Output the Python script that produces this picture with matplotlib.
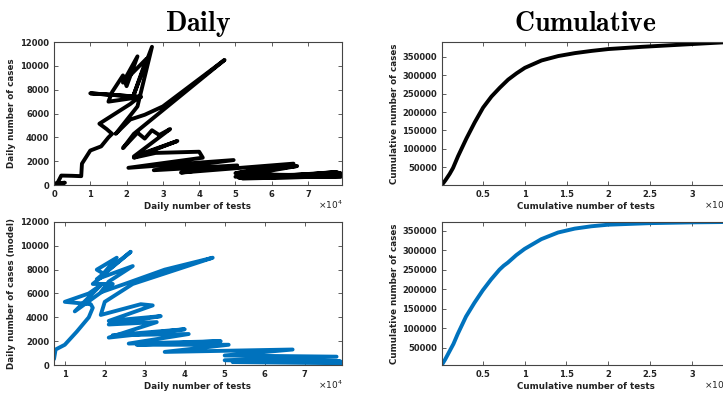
import matplotlib
matplotlib.use("Agg")
import matplotlib.pyplot as plt

# daily tests (x 1e4) and daily cases, observed
obs_tests = [0.00, 0.05, 0.30, 0.08, 0.15, 0.20, 0.50, 0.75, 0.77, 1.00,
             1.30, 1.50, 1.60, 1.45, 1.25, 2.10, 2.35, 1.00, 2.40, 1.50,
             1.60, 1.90, 2.00, 2.30, 1.90, 2.55, 2.20, 2.70, 2.30, 1.70,
             2.10, 2.50, 3.00, 4.70, 2.20, 1.90, 2.30, 2.50, 2.70, 2.90,
             3.20, 2.20, 3.40, 2.20, 2.80, 4.00, 4.10, 2.05, 4.95, 2.75,
             5.05, 3.50, 6.60, 5.00, 6.70, 5.00, 7.90, 5.10, 7.85, 5.40,
             7.93, 5.20, 7.80, 6.00, 7.90]
obs_cases = [0, 150, 200, 100, 500, 800, 780, 750, 1800, 2900,
             3250, 4000, 4300, 4700, 5150, 6800, 7400, 7700, 7400, 7000,
             7800, 9200, 8300, 10800, 8600, 10600, 7600, 11600, 6600, 4300,
             5500, 5900, 6600, 10500, 4300, 3100, 4400, 3900, 4600, 4200,
             4700, 2400, 3700, 2300, 2700, 2800, 2300, 1450, 2100, 1250,
             1650, 1050, 1800, 1000, 1600, 700, 1000, 600, 800, 900,
             750, 550, 1100, 650, 700]

# daily tests (x 1e4) and daily cases, model
mod_tests = [0.73, 0.77, 1.00, 1.30, 1.60, 1.70, 1.65, 1.00, 1.60, 1.90,
             1.25, 2.20, 1.70, 2.00, 1.80, 2.30, 1.90, 2.65, 1.80, 2.70,
             2.10, 1.90, 2.50, 3.50, 4.70, 2.70, 2.00, 1.90, 2.90, 3.20,
             2.10, 3.40, 2.10, 3.30, 2.10, 4.00, 2.20, 4.10, 2.60, 4.90,
             2.80, 5.10, 3.50, 6.70, 5.00, 7.80, 5.00, 7.90, 5.20, 7.93]
mod_cases = [500, 1300, 1700, 2800, 4000, 4800, 5100, 5300, 6000, 6700,
             4500, 6800, 6800, 7600, 8000, 9000, 7400, 9500, 7200, 8300,
             7000, 6100, 6800, 8000, 9000, 6800, 5300, 4200, 5100, 5000,
             3700, 4100, 3400, 3600, 2300, 3000, 2500, 2600, 1800, 2000,
             1700, 1700, 1100, 1300, 800, 700, 400, 300, 250, 150]

# cumulative tests (x 1e6) and cumulative cases
cum_obs_tests = [0.005, 0.05, 0.10, 0.14, 0.20, 0.30, 0.40, 0.50, 0.60, 0.70, 0.80,
                 0.90, 1.00, 1.20, 1.40, 1.60, 1.80, 2.00, 2.40, 2.80, 3.20, 3.45]
cum_obs_cases = [1500, 15000, 32000, 48000, 80000, 128000, 172000, 212000, 242000,
                 266000, 288000, 305000, 320000, 340000, 352000, 360000, 366000,
                 371000, 377000, 382000, 387000, 390000]
cum_mod_tests = [0.01, 0.05, 0.10, 0.15, 0.20, 0.30, 0.40, 0.50, 0.60, 0.70, 0.75,
                 0.80, 0.90, 1.00, 1.20, 1.40, 1.60, 1.80, 2.00, 2.50, 3.00, 3.45]
cum_mod_cases = [6000, 20000, 40000, 60000, 85000, 130000, 165000, 197000, 225000,
                 250000, 260000, 268000, 287000, 303000, 328000, 345000, 355000,
                 361000, 365000, 369000, 371000, 372000]

BLUE = '#0072BD'
AXC = '#444444'

fig = plt.figure(figsize=(7.23, 3.93), dpi=100)


def style(ax):
    for s in ax.spines.values():
        s.set_color(AXC)
        s.set_linewidth(0.8)
    ax.tick_params(direction='in', top=True, right=True, length=3, width=0.6,
                   color=AXC, labelsize=6, pad=3.5)
    for lab in ax.get_xticklabels() + ax.get_yticklabels():
        lab.set_fontweight('bold')
        lab.set_color('#222222')


def line(ax, x, y, color):
    ax.plot(x, y, color=color, lw=2.8, solid_capstyle='round',
            solid_joinstyle='round')
    ax.set_xlim(min(x), max(x))
    ax.set_ylim(min(y), max(y))


lw, h = 0.398, 0.364
ax1 = fig.add_axes([0.0747, 0.529, lw, h])
ax2 = fig.add_axes([0.611, 0.529, lw, h])
ax3 = fig.add_axes([0.0747, 0.0712, lw, h])
ax4 = fig.add_axes([0.611, 0.0712, lw, h])

line(ax1, obs_tests, obs_cases, 'black')
ax1.set_ylim(0, 12000)
ax1.set_xticks(range(0, 8))
ax1.set_yticks(range(0, 12001, 2000))

line(ax3, mod_tests, mod_cases, BLUE)
ax3.set_ylim(0, 12000)
ax3.set_xticks(range(1, 8))
ax3.set_yticks(range(0, 12001, 2000))

line(ax2, cum_obs_tests, cum_obs_cases, 'black')
line(ax4, cum_mod_tests, cum_mod_cases, BLUE)
for ax in (ax2, ax4):
    ax.set_xticks([0.5, 1, 1.5, 2, 2.5, 3])
    ax.set_xticklabels(['0.5', '1', '1.5', '2', '2.5', '3'])
    ax.set_yticks(range(50000, 350001, 50000))

lab = dict(fontsize=6.3, fontweight='bold', color='#222222')
ax1.set_xlabel('Daily number of tests', labelpad=2.5, **lab)
ax1.set_ylabel('Daily number of cases', labelpad=3, **lab)
ax3.set_xlabel('Daily number of tests', labelpad=2.5, **lab)
ax3.set_ylabel('Daily number of cases (model)', labelpad=3, **lab)
ax2.set_xlabel('Cumulative number of tests', labelpad=2.5, **lab)
ax2.set_ylabel('Cumulative number of cases', labelpad=2, **lab)
ax4.set_xlabel('Cumulative number of tests', labelpad=2.5, **lab)
ax4.set_ylabel('Cumulative number of cases', labelpad=2, **lab)

for ax in (ax1, ax2, ax3, ax4):
    style(ax)

# exponent labels (the right ones run off the edge, as in the source)
fig.text(0.474, 0.468, r'$\times10^{4}$', ha='right', fontsize=6.5, color='#222222')
fig.text(0.474, 0.010, r'$\times10^{4}$', ha='right', fontsize=6.5, color='#222222')
fig.text(1.008, 0.468, r'$\times10^{6}$', ha='right', fontsize=6.5, color='#222222')
fig.text(1.008, 0.010, r'$\times10^{6}$', ha='right', fontsize=6.5, color='#222222')

fig.text(0.274, 0.921, r'$\mathbf{Daily}$', ha='center', va='baseline',
         fontsize=20, math_fontfamily='cm')
fig.text(0.81, 0.921, r'$\mathbf{Cumulative}$', ha='center', va='baseline',
         fontsize=20, math_fontfamily='cm')

fig.savefig('out.png', dpi=100)
